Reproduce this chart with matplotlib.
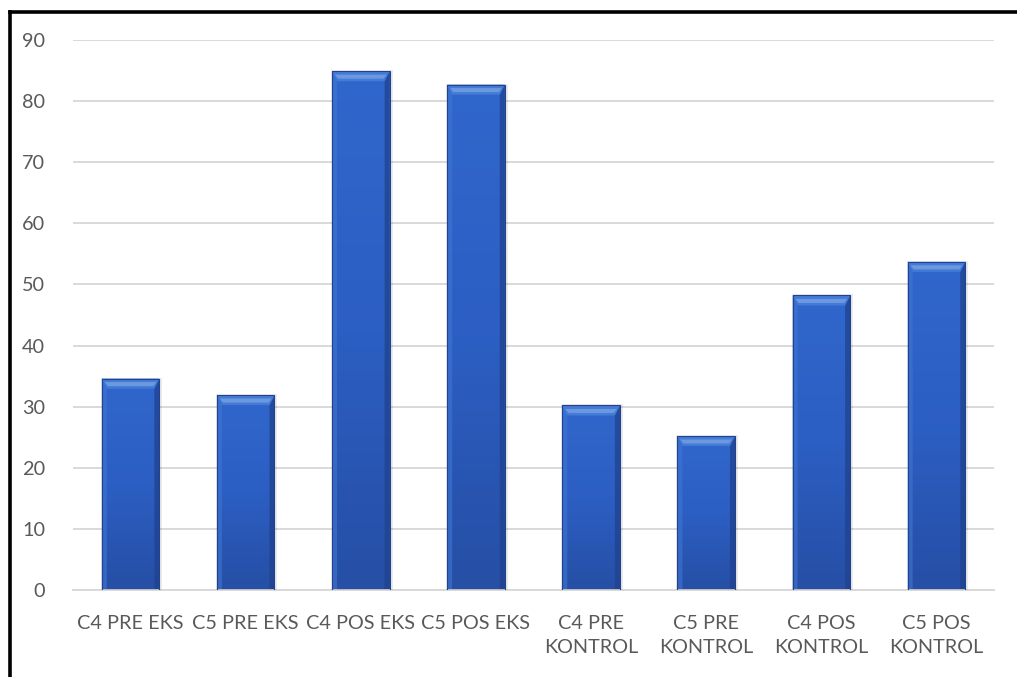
import numpy as np
import matplotlib.pyplot as plt
from matplotlib.patches import Polygon, Rectangle
from matplotlib.lines import Line2D
from matplotlib.colors import LinearSegmentedColormap
from matplotlib.transforms import IdentityTransform

plt.rcParams['font.family'] = ['Lato', 'DejaVu Sans']

categories = ['C4 PRE EKS', 'C5 PRE EKS', 'C4 POS EKS', 'C5 POS EKS',
              'C4 PRE\nKONTROL', 'C5 PRE\nKONTROL', 'C4 POS\nKONTROL', 'C5 POS\nKONTROL']
values = [34.6, 31.9, 84.9, 82.7, 30.2, 25.2, 48.2, 53.7]
yticks = [0, 10, 20, 30, 40, 50, 60, 70, 80, 90]

textcol = '#595959'
gridcol = '#d9d9d9'

fig = plt.figure(figsize=(10.17, 6.77), dpi=100)
ax = fig.add_axes([0.0718, 0.1285, 0.9056, 0.8124])

x = np.arange(len(categories))
bars = ax.bar(x, values, width=0.5, color='#2f66d0', zorder=2)

# vertical shading inside each bar
grad = LinearSegmentedColormap.from_list('bargrad', ['#2a56b4', '#3067d4', '#3570de'])
for b in bars:
    im = ax.imshow(np.linspace(0, 1, 256).reshape(-1, 1), cmap=grad, origin='lower',
                   extent=[b.get_x(), b.get_x() + b.get_width(), 0, b.get_height()],
                   aspect='auto', zorder=2.1)
    im.set_clip_path(b)

ax.set_xlim(-0.5, len(categories) - 0.5)
ax.set_ylim(0, 90)
ax.set_yticks(yticks)
ax.set_xticks(x)
ax.set_xticklabels(categories)
ax.yaxis.grid(True, color=gridcol, linewidth=1.4, zorder=0)
ax.set_axisbelow(True)
for side in ['top', 'right', 'left']:
    ax.spines[side].set_visible(False)
ax.spines['bottom'].set_color(gridcol)
ax.spines['bottom'].set_linewidth(1.4)
ax.tick_params(axis='both', length=0, labelsize=14.3, labelcolor=textcol)
ax.tick_params(axis='y', pad=20)
ax.tick_params(axis='x', pad=18)
for lbl in ax.get_xticklabels():
    lbl.set_linespacing(1.5)
    lbl.set_verticalalignment('top')

# bevel on each bar, drawn in pixel units
fig.canvas.draw()
ident = IdentityTransform()
s, t = 5, 10
for b in bars:
    bb = b.get_window_extent()
    x0, y0, x1, y1 = bb.x0, bb.y0, bb.x1, bb.y1
    fig.add_artist(Rectangle((x0 - 1, y0), x1 - x0 + 4, y1 - y0 + 1, transform=ident,
                             facecolor='#000000', alpha=0.08, edgecolor='none', zorder=0.5))
    ax.add_patch(Polygon([(x0, y0), (x0 + s, y0), (x0 + s, y1 - t), (x0, y1)],
                         transform=ident, facecolor='#4580e6', alpha=0.6,
                         edgecolor='none', zorder=2.3))
    ax.add_patch(Polygon([(x1, y0), (x1 - s, y0), (x1 - s, y1 - t), (x1, y1)],
                         transform=ident, facecolor='#22489a', alpha=0.75,
                         edgecolor='none', zorder=2.3))
    ax.add_patch(Polygon([(x0, y1), (x1, y1), (x1 - s, y1 - t), (x0 + s, y1 - t)],
                         transform=ident, facecolor='#4a86ea',
                         edgecolor='none', zorder=2.4))
    ax.add_patch(Polygon([(x0 + 3, y1 - 3.5), (x1 - 3, y1 - 3.5), (x1 - s - 1, y1 - t + 2.5),
                          (x0 + s + 1, y1 - t + 2.5)],
                         transform=ident, facecolor='#7eacf4', alpha=0.85,
                         edgecolor='none', zorder=2.5))
    ax.add_patch(Rectangle((x0, y0), x1 - x0, y1 - y0, transform=ident, fill=False,
                           edgecolor='#24499a', linewidth=0.8, zorder=2.6))

# frame lines on the top and left of the figure
fig.add_artist(Line2D([9.5 / 1017, 1], [1 - 11.5 / 677, 1 - 11.5 / 677], color='black', linewidth=2.6))
fig.add_artist(Line2D([9.5 / 1017, 9.5 / 1017], [0, 1 - 11.5 / 677], color='black', linewidth=2.6))

fig.savefig('out.png', dpi=100, facecolor='white')
